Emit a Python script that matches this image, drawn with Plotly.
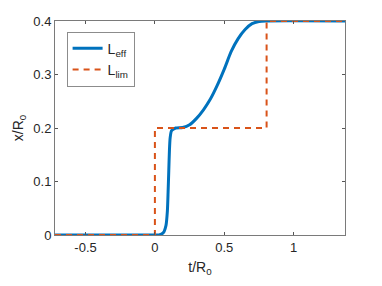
import plotly.graph_objects as go

t_eff = [-0.72, 0.0, 0.03, 0.06, 0.08, 0.09, 0.095, 0.10, 0.105, 0.11, 0.12, 0.15, 0.2, 0.25, 0.3, 0.35,
         0.4, 0.45, 0.5, 0.55, 0.6, 0.65, 0.7, 0.75, 0.8, 1.37]
x_eff = [0.0, 0.0, 0.0, 0.004, 0.018, 0.045, 0.08, 0.12, 0.16, 0.182, 0.195, 0.2, 0.201, 0.206, 0.218, 0.234,
         0.254, 0.28, 0.31, 0.343, 0.367, 0.384, 0.395, 0.399, 0.4, 0.4]

t_lim = [-0.72, 0.0, 0.0, 0.805, 0.805, 1.37]
x_lim = [0.0, 0.0, 0.2, 0.2, 0.4, 0.4]

x_ticks = [-0.5, 0, 0.5, 1]
y_ticks = [0, 0.1, 0.2, 0.3, 0.4]

FONT = "Liberation Sans, Arial"
fig = go.Figure()
fig.add_trace(go.Scatter(x=t_eff, y=x_eff, mode="lines", name="L<sub>eff</sub>",
                         line=dict(color="#0072BD", width=3, shape="spline", smoothing=0.6)))
fig.add_trace(go.Scatter(x=t_lim, y=x_lim, mode="lines", name="L<sub>lim</sub>",
                         line=dict(color="#D95319", width=2, dash="6px,5px")))

axis_common = dict(showgrid=False, zeroline=False, showline=True, linecolor="#7a7a7a", linewidth=1,
                   mirror="ticks", ticks="inside", ticklen=3, tickcolor="#555555",
                   tickfont=dict(family=FONT, size=13, color="#262626"))
fig.update_xaxes(range=[-0.72, 1.37], tickvals=x_ticks, ticktext=["-0.5", "0", "0.5", "1"],
                 title=dict(text="t/R<sub>0</sub>", font=dict(family=FONT, size=14, color="#262626"), standoff=8),
                 **axis_common)
fig.update_yaxes(range=[0, 0.4], tickvals=y_ticks, ticktext=["0", "0.1", "0.2", "0.3", "0.4"],
                 title=dict(text="x/R<sub>0</sub>", font=dict(family=FONT, size=14, color="#262626"), standoff=6),
                 **axis_common)
fig.update_layout(width=382, height=286, margin=dict(l=47, r=45, t=13, b=59, autoexpand=False),
                  plot_bgcolor="white", paper_bgcolor="white",
                  legend=dict(x=0.04, y=0.95, xanchor="left", yanchor="top", bgcolor="white",
                              bordercolor="#8c8c8c", borderwidth=1, itemwidth=30,
                              font=dict(family=FONT, size=14, color="#262626")),
                  showlegend=True)
fig.write_html("out.html")
